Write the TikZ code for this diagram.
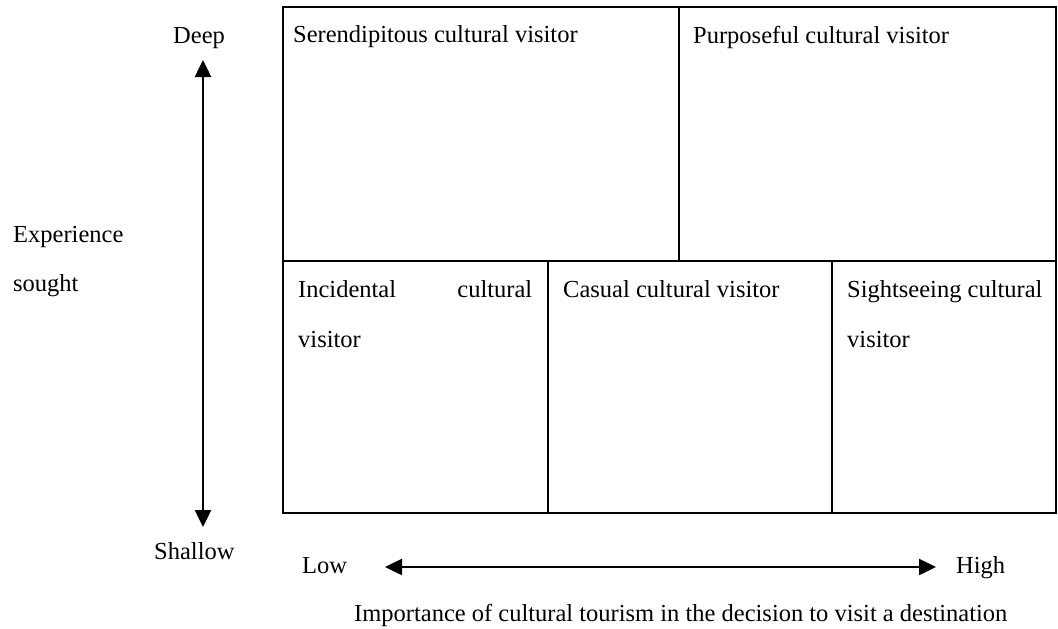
\documentclass[tikz,border=0pt]{standalone}
\usepackage{fontspec}
\setmainfont{Liberation Serif}
\usetikzlibrary{arrows.meta}
\begin{document}
\begin{tikzpicture}[x=1pt,y=-1pt,
  cell/.style={draw, line width=2.5pt, inner sep=0pt, rectangle},
  txt/.style={inner sep=0pt, anchor=base west, font=\fontsize{24.5pt}{29pt}\selectfont},
  axis/.style={line width=2.5pt, arrows={Triangle[length=17pt,width=16pt]-Triangle[length=17pt,width=16pt]}}]
\useasboundingbox (0,0) rectangle (1058,629);
% cells
\node[cell, minimum width=396pt, minimum height=254pt] (ser) at (481,134) {};
\node[cell, minimum width=377pt, minimum height=254pt] (pur) at (867.5,134) {};
\node[cell, minimum width=265pt, minimum height=252pt] (inc) at (415.5,387) {};
\node[cell, minimum width=284pt, minimum height=252pt] (cas) at (690,387) {};
\node[cell, minimum width=224pt, minimum height=252pt] (sig) at (944,387) {};
% cell texts
\node[txt] (serT) at (293,42) {Serendipitous cultural visitor};
\node[txt] (purT) at (693,43) {Purposeful cultural visitor};
\node[txt] (incT) at (298,297) {\vtop{\baselineskip=50pt\hbox to 234pt{Incidental\hfill cultural}\hbox{visitor}}};
\node[txt] (casT) at (563,297) {Casual cultural visitor};
\node[txt] (sigT) at (847,297) {\vtop{\baselineskip=50pt\hbox{Sightseeing cultural}\hbox{visitor}}};
% axis labels
\node[txt] (deep) at (173,43) {Deep};
\node[txt] (shallow) at (154,559) {Shallow};
\node[txt] (exp) at (13,242) {\vtop{\baselineskip=49pt\hbox{Experience}\hbox{sought}}};
\node[txt] (low) at (302,573) {Low};
\node[txt] (high) at (956,573) {High};
\node[txt] (imp) at (354,621) {Importance of cultural tourism in the decision to visit a destination};
% axes
\coordinate (vtop) at (203,60);
\coordinate (vbot) at (203,527);
\coordinate (hleft) at (385,567);
\coordinate (hright) at (936,567);
\draw[axis] (vtop) -- (vbot);
\draw[axis] (hleft) -- (hright);
\end{tikzpicture}
\end{document}
